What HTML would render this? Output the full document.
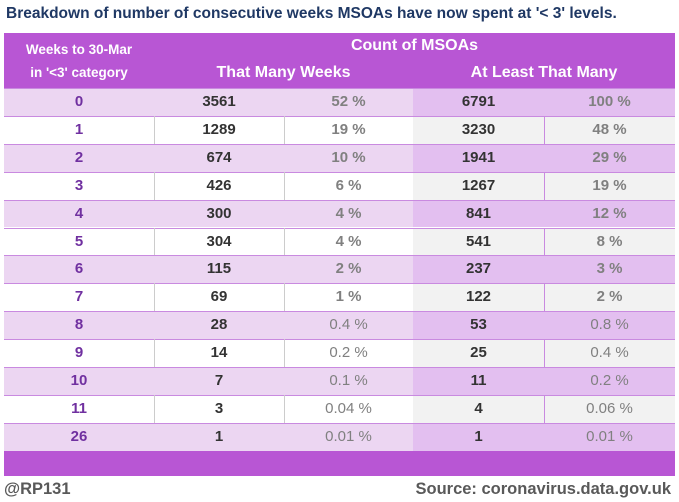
<!DOCTYPE html>
<html><head><meta charset="utf-8"><style>
body{margin:0;width:679px;height:502px;background:#fff;font-family:"Liberation Sans",sans-serif;position:relative;overflow:hidden}
.a{position:absolute}
.t{position:absolute;text-align:center;line-height:28px;font-size:15px;font-weight:bold}
</style></head><body>
<div class="a" style="left:6px;top:5px;font-size:15.5px;font-weight:bold;color:#1f3864">Breakdown of number of consecutive weeks MSOAs have now spent at '&lt; 3' levels.</div>
<div class="a" style="left:4px;top:33px;width:671px;height:55px;background:#b856d4"></div>
<div class="a" style="left:4px;top:38px;width:150px;text-align:center;color:#fff;font-weight:bold;font-size:13.5px;line-height:23px">Weeks to 30-Mar<br>in '&lt;3' category</div>
<div class="a" style="left:154px;top:37px;width:521px;text-align:center;color:#fff;font-weight:bold;font-size:16px">Count of MSOAs</div>
<div class="a" style="left:154px;top:64px;width:259px;text-align:center;color:#fff;font-weight:bold;font-size:16px">That Many Weeks</div>
<div class="a" style="left:413px;top:64px;width:262px;text-align:center;color:#fff;font-weight:bold;font-size:16px">At Least That Many</div>
<div id="rows"></div>
<div class="a" style="left:4px;top:451px;width:671px;height:25px;background:#b856d4"></div>
<div class="a" style="left:4px;top:480px;font-size:16.5px;font-weight:bold;color:#595959">@RP131</div>
<div class="a" style="right:8px;top:480px;font-size:16.5px;font-weight:bold;color:#595959">Source: coronavirus.data.gov.uk</div>
<script>
const weeks=["0","1","2","3","4","5","6","7","8","9","10","11","26"];
const counts=["3561","1289","674","426","300","304","115","69","28","14","7","3","1"];
const pcts=["52 %","19 %","10 %","6 %","4 %","4 %","2 %","1 %","0.4 %","0.2 %","0.1 %","0.04 %","0.01 %"];
const cum=["6791","3230","1941","1267","841","541","237","122","53","25","11","4","1"];
const cumPcts=["100 %","48 %","29 %","19 %","12 %","8 %","3 %","2 %","0.8 %","0.4 %","0.2 %","0.06 %","0.01 %"];
const root=document.getElementById('rows');
const top0=88,rh=27.9;
const cols=[[4,150],[154,130],[284,129],[413,131],[544,131]];
function cell(x,y,w,txt,color,bold,name){
  const d=document.createElement('div');d.className='t';
  d.style.left=x+'px';d.style.top=y+'px';d.style.width=w+'px';d.style.color=color;d.style.fontWeight=bold?'bold':'normal';
  d.textContent=txt;
  
  
  root.appendChild(d);
}
weeks.forEach((w,i)=>{
  const y=top0+i*rh, even=i%2===0;
  const bg=document.createElement('div');bg.className='a';
  bg.style.cssText=`left:4px;top:${y}px;width:671px;height:${rh}px;background:linear-gradient(to right,${even?'#ecd6f2':'#fff'} 409px,${even?'#e3bff0':'#f2f2f2'} 409px);border-top:1px solid #c98ae0;box-sizing:border-box`;
  
  
  root.appendChild(bg);
  if(!even){
    [[154,'#ccc'],[284,'#ccc'],[544,'#c98ae0']].forEach(([x,c])=>{
      const l=document.createElement('div');l.className='a';
      l.style.cssText=`left:${x}px;top:${y}px;width:1px;height:${rh}px;background:${c}`;
      
      
      root.appendChild(l);
    });
  }
  const small=i>=8;
  cell(cols[0][0],y,cols[0][1],w,'#7030a0',true,'weeks-'+w);
  cell(cols[1][0],y,cols[1][1],counts[i],'#333',true,'count-'+w);
  cell(cols[2][0],y,cols[2][1],pcts[i],'#808080',!small,'pct-'+w);
  cell(cols[3][0],y,cols[3][1],cum[i],'#333',true,'cum-count-'+w);
  cell(cols[4][0],y,cols[4][1],cumPcts[i],'#808080',!small,'cum-pct-'+w);
});
</script>
</body></html>
